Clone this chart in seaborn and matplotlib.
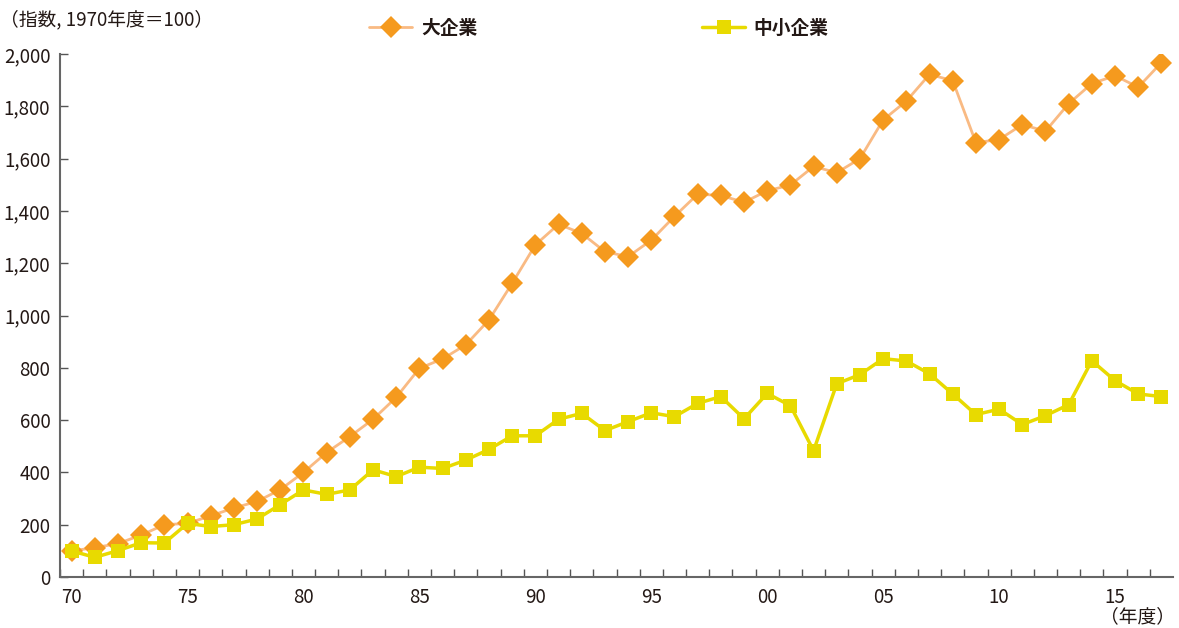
import numpy as np
import pandas as pd
import matplotlib
matplotlib.use("Agg")
import matplotlib.pyplot as plt
import seaborn as sns
from matplotlib.ticker import FixedLocator, FuncFormatter

years = list(range(1970, 2018))
large = [100, 112, 128, 160, 200, 205, 234, 264, 289, 334, 400, 476, 537, 603,
         687, 798, 834, 888, 983, 1123, 1270, 1349, 1314, 1244, 1225, 1288, 1379, 1464,
         1459, 1433, 1477, 1499, 1570, 1546, 1600, 1748, 1820, 1922, 1898, 1661,
         1673, 1730, 1705, 1810, 1887, 1917, 1873, 1967]
sme = [100, 75, 101, 131, 130, 205, 193, 200, 222, 277, 333, 316, 333, 410,
       384, 420, 415, 447, 488, 540, 540, 603, 626, 560, 594, 628, 613, 664,
       690, 605, 702, 655, 483, 739, 774, 835, 826, 777, 700, 621,
       642, 583, 617, 659, 827, 751, 700, 690]
series_names = ["大企業", "中小企業"]
xtick_years = [1970, 1975, 1980, 1985, 1990, 1995, 2000, 2005, 2010, 2015]
yticks = [0, 200, 400, 600, 800, 1000, 1200, 1400, 1600, 1800, 2000]

sns.set_theme(style="white")
plt.rcParams['font.family'] = ['Noto Sans CJK JP', 'DejaVu Sans']
text_color = "#231815"

df = pd.DataFrame({"year": years, "large": large, "sme": sme})

fig = plt.figure(figsize=(11.79, 6.28), dpi=100)
ax = fig.add_axes([60/1179, 1-577/628, (1173-60)/1179, (577-54)/628])

sns.lineplot(data=df, x="year", y="large", ax=ax, color="#F9BA83", linewidth=2,
             marker="D", markersize=11, markerfacecolor="#F59A1E",
             markeredgecolor="#F59A1E", markeredgewidth=0, label=series_names[0], zorder=3)
sns.lineplot(data=df, x="year", y="sme", ax=ax, color="#E8DA00", linewidth=2.5,
             marker="s", markersize=9.5, markerfacecolor="#E8DA00",
             markeredgecolor="#E8DA00", markeredgewidth=0, label=series_names[1], zorder=4)

ax.set_xlim(1969.5, 2017.5)
ax.set_ylim(0, 2000)
ax.set_xlabel("")
ax.set_ylabel("")

ax.xaxis.set_major_locator(FixedLocator(xtick_years))
ax.xaxis.set_major_formatter(FuncFormatter(lambda v, p: f"{int(v) % 100:02d}"))
ax.xaxis.set_minor_locator(FixedLocator([y + 0.5 for y in range(1969, 2017)]))
ax.tick_params(axis="x", which="major", length=0, pad=7, labelsize=13.5, labelcolor=text_color)
ax.tick_params(axis="x", which="minor", length=6, width=1, direction="in", color="#555555", bottom=True)
ax.yaxis.set_major_locator(FixedLocator(yticks))
ax.yaxis.set_major_formatter(FuncFormatter(lambda v, p: f"{int(v):,}"))
ax.tick_params(axis="y", which="major", length=6, width=1, direction="in", color="#555555",
               left=True, pad=7, labelsize=13.5, labelcolor=text_color)

for s in ["top", "right"]:
    ax.spines[s].set_visible(False)
for s in ["left", "bottom"]:
    ax.spines[s].set_color("#666666")
    ax.spines[s].set_linewidth(1.5)
ax.grid(False)

ax.get_legend().remove()
handles, labels = ax.get_legend_handles_labels()
leg = fig.legend(handles, labels, loc="center", bbox_to_anchor=(599/1179, 1-28/628), ncol=2,
                 frameon=False, handlelength=2.3, handletextpad=0.45, columnspacing=12.0,
                 prop={"size": 13.5, "weight": "bold"})
for t in leg.get_texts():
    t.set_color(text_color)

fig.text(0/1179, 1-20/628, "（指数, 1970年度＝100）", fontsize=13.5, color=text_color,
         ha="left", va="center")
fig.text(0.997, 1-617/628, "（年度）", fontsize=13.5, color=text_color,
         ha="right", va="center")

fig.savefig("out.png", dpi=100)
